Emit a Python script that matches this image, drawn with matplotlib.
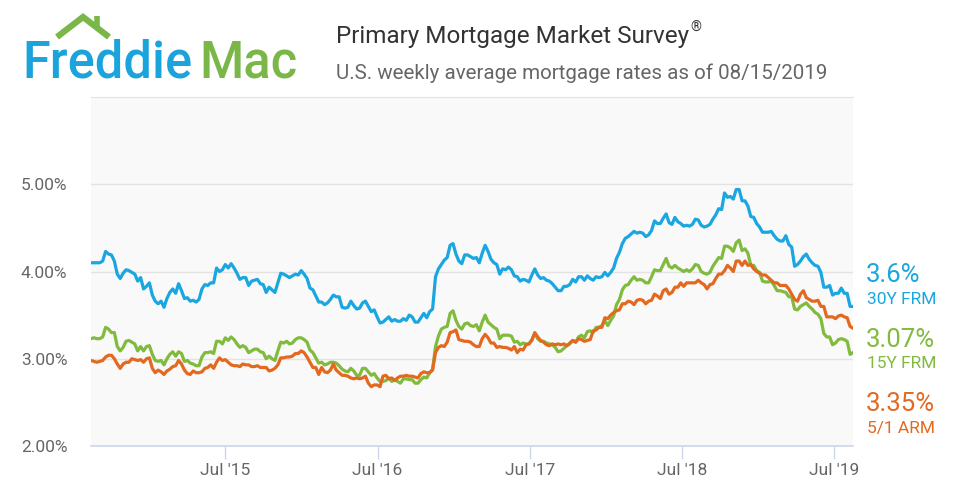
import matplotlib
matplotlib.use("Agg")
import matplotlib.pyplot as plt
import pandas as pd
from matplotlib.lines import Line2D

plt.rcParams['font.family'] = ['Roboto', 'DejaVu Sans']

# weekly PMMS rates, Thursdays from 2014-08-14 to 2019-08-15
frm30 = [
    4.10, 4.10, 4.10, 4.10, 4.12, 4.23, 4.20, 4.19, 4.12, 3.97, 3.92, 3.98, 4.02, 4.01, 3.99, 3.97, 3.89, 3.93, 3.80, 3.83,
    3.87, 3.73, 3.66, 3.63, 3.66, 3.59, 3.69, 3.76, 3.80, 3.75, 3.86, 3.78, 3.69, 3.70, 3.66, 3.67, 3.65, 3.68,
    3.80, 3.85, 3.84, 3.87, 3.87, 4.04, 4.00, 4.02, 4.08, 4.04, 4.09, 4.04, 3.98, 3.91, 3.93, 3.93, 3.84,
    3.89, 3.90, 3.91, 3.86, 3.85, 3.76, 3.82, 3.79, 3.76, 3.87, 3.98, 3.97, 3.95, 3.93, 3.95, 3.97, 3.96, 4.01,
    3.97, 3.92, 3.81, 3.79, 3.72, 3.65, 3.65, 3.62, 3.64, 3.68, 3.73, 3.71, 3.71, 3.59, 3.58, 3.59, 3.66,
    3.61, 3.57, 3.58, 3.64, 3.66, 3.60, 3.54, 3.56, 3.48, 3.41, 3.42, 3.45, 3.48, 3.43, 3.45, 3.43, 3.43,
    3.46, 3.44, 3.50, 3.48, 3.42, 3.42, 3.47, 3.52, 3.47, 3.54, 3.57, 3.94, 4.03, 4.08, 4.13, 4.16, 4.30, 4.32,
    4.20, 4.12, 4.09, 4.19, 4.19, 4.17, 4.15, 4.16, 4.10, 4.21, 4.30, 4.23, 4.14, 4.10, 4.08, 3.97, 4.03,
    4.02, 4.05, 4.02, 3.95, 3.94, 3.89, 3.91, 3.90, 3.88, 3.96, 4.03, 3.96, 3.92, 3.93, 3.90, 3.89, 3.86, 3.82,
    3.78, 3.78, 3.83, 3.83, 3.85, 3.91, 3.88, 3.94, 3.94, 3.90, 3.95, 3.92, 3.90, 3.94, 3.93, 3.94, 3.99,
    3.95, 3.99, 4.04, 4.15, 4.22, 4.32, 4.38, 4.40, 4.43, 4.46, 4.44, 4.45, 4.44, 4.40, 4.42, 4.47, 4.58,
    4.55, 4.55, 4.61, 4.66, 4.56, 4.54, 4.62, 4.57, 4.55, 4.52, 4.53, 4.52, 4.54, 4.60, 4.59, 4.53, 4.51, 4.52,
    4.54, 4.60, 4.65, 4.72, 4.71, 4.90, 4.85, 4.86, 4.83, 4.94, 4.94, 4.81, 4.81, 4.75, 4.63, 4.62, 4.55,
    4.51, 4.45, 4.45, 4.45, 4.46, 4.41, 4.37, 4.35, 4.35, 4.41, 4.31, 4.28, 4.06, 4.08, 4.12, 4.17, 4.20,
    4.14, 4.10, 4.07, 4.06, 3.99, 3.82, 3.82, 3.84, 3.73, 3.75, 3.75, 3.81, 3.75, 3.75, 3.60, 3.60,
]
frm15 = [
    3.23, 3.24, 3.23, 3.23, 3.25, 3.36, 3.34, 3.30, 3.30, 3.14, 3.09, 3.13, 3.20, 3.21, 3.19, 3.17, 3.09, 3.14, 3.09, 3.14,
    3.15, 3.05, 2.98, 2.97, 2.98, 2.93, 3.00, 3.05, 3.08, 3.03, 3.08, 3.06, 2.97, 2.98, 2.95, 2.94, 2.92, 2.92,
    3.02, 3.07, 3.07, 3.08, 3.06, 3.20, 3.20, 3.17, 3.24, 3.21, 3.25, 3.22, 3.17, 3.13, 3.15, 3.13, 3.07,
    3.09, 3.11, 3.11, 3.08, 3.07, 3.00, 3.03, 3.00, 2.98, 3.09, 3.19, 3.18, 3.20, 3.17, 3.18, 3.22, 3.24, 3.24,
    3.22, 3.19, 3.10, 3.07, 3.01, 2.95, 2.96, 2.93, 2.94, 2.96, 2.96, 2.95, 2.92, 2.88, 2.86, 2.85, 2.89,
    2.86, 2.81, 2.81, 2.89, 2.89, 2.85, 2.81, 2.83, 2.78, 2.74, 2.74, 2.75, 2.78, 2.74, 2.76, 2.74, 2.72,
    2.77, 2.77, 2.76, 2.76, 2.72, 2.72, 2.76, 2.79, 2.78, 2.84, 2.88, 3.14, 3.26, 3.34, 3.36, 3.37, 3.52, 3.55,
    3.44, 3.37, 3.34, 3.40, 3.41, 3.38, 3.37, 3.39, 3.32, 3.42, 3.50, 3.42, 3.39, 3.36, 3.34, 3.23, 3.27,
    3.27, 3.27, 3.26, 3.19, 3.20, 3.16, 3.18, 3.17, 3.17, 3.22, 3.29, 3.23, 3.20, 3.20, 3.18, 3.17, 3.16, 3.13,
    3.08, 3.09, 3.12, 3.15, 3.17, 3.21, 3.19, 3.25, 3.27, 3.24, 3.31, 3.32, 3.30, 3.36, 3.36, 3.38, 3.44,
    3.38, 3.44, 3.49, 3.62, 3.68, 3.79, 3.84, 3.85, 3.90, 3.94, 3.90, 3.91, 3.90, 3.87, 3.87, 3.94, 4.02,
    4.01, 4.01, 4.08, 4.15, 4.06, 4.04, 4.07, 4.04, 4.02, 4.00, 4.02, 4.00, 4.03, 4.08, 4.07, 4.00, 3.98, 3.97,
    3.99, 4.06, 4.11, 4.16, 4.15, 4.29, 4.29, 4.27, 4.23, 4.33, 4.36, 4.24, 4.26, 4.21, 4.07, 4.07, 4.01,
    3.99, 3.89, 3.88, 3.88, 3.89, 3.84, 3.78, 3.78, 3.77, 3.76, 3.71, 3.71, 3.57, 3.56, 3.60, 3.62, 3.64,
    3.60, 3.57, 3.53, 3.51, 3.46, 3.29, 3.25, 3.25, 3.16, 3.18, 3.22, 3.23, 3.22, 3.20, 3.05, 3.07,
]
arm51 = [
    2.98, 2.97, 2.96, 2.97, 2.98, 3.02, 3.04, 3.04, 3.00, 2.94, 2.89, 2.94, 2.96, 2.96, 3.00, 2.99, 2.98, 2.99, 2.96, 3.00,
    3.01, 2.89, 2.84, 2.87, 2.85, 2.82, 2.86, 2.88, 2.91, 2.92, 2.98, 2.94, 2.87, 2.83, 2.82, 2.86, 2.84, 2.84,
    2.85, 2.89, 2.90, 2.93, 2.89, 2.96, 3.01, 2.98, 2.99, 2.96, 2.93, 2.92, 2.92, 2.91, 2.94, 2.93, 2.93,
    2.91, 2.91, 2.92, 2.90, 2.90, 2.90, 2.86, 2.87, 2.89, 2.93, 3.01, 3.01, 3.02, 3.02, 3.03, 3.06, 3.06, 3.09,
    3.07, 3.02, 2.96, 2.90, 2.90, 2.82, 2.90, 2.85, 2.84, 2.87, 2.94, 2.87, 2.84, 2.81, 2.81, 2.80, 2.78,
    2.77, 2.78, 2.77, 2.78, 2.80, 2.72, 2.68, 2.70, 2.70, 2.68, 2.80, 2.81, 2.77, 2.78, 2.75, 2.78, 2.80,
    2.80, 2.81, 2.80, 2.80, 2.79, 2.78, 2.83, 2.85, 2.84, 2.84, 2.87, 3.07, 3.13, 3.15, 3.14, 3.19, 3.30, 3.31,
    3.33, 3.22, 3.21, 3.20, 3.20, 3.19, 3.16, 3.14, 3.14, 3.23, 3.28, 3.24, 3.18, 3.18, 3.13, 3.14, 3.13,
    3.13, 3.12, 3.10, 3.14, 3.07, 3.11, 3.10, 3.16, 3.17, 3.21, 3.30, 3.25, 3.21, 3.19, 3.16, 3.15, 3.17, 3.16,
    3.17, 3.16, 3.17, 3.15, 3.18, 3.21, 3.19, 3.23, 3.22, 3.20, 3.21, 3.22, 3.32, 3.33, 3.36, 3.36, 3.47,
    3.46, 3.50, 3.53, 3.55, 3.56, 3.63, 3.63, 3.66, 3.65, 3.62, 3.67, 3.68, 3.67, 3.63, 3.66, 3.67, 3.74,
    3.72, 3.69, 3.78, 3.80, 3.74, 3.76, 3.82, 3.82, 3.87, 3.83, 3.87, 3.87, 3.87, 3.87, 3.90, 3.87, 3.85, 3.80,
    3.85, 3.86, 3.92, 3.97, 3.97, 4.01, 4.07, 4.04, 4.00, 4.12, 4.12, 4.07, 4.12, 4.07, 4.08, 4.03, 4.00,
    3.98, 3.96, 3.96, 3.93, 3.90, 3.87, 3.87, 3.84, 3.84, 3.84, 3.80, 3.74, 3.68, 3.66, 3.74, 3.78, 3.70,
    3.68, 3.66, 3.66, 3.67, 3.60, 3.60, 3.48, 3.48, 3.48, 3.46, 3.49, 3.50, 3.48, 3.47, 3.37, 3.35,
]
dates = pd.date_range('2014-08-14', periods=len(frm30), freq='7D')

series = [
    (frm30, '#1aa6e0', '3.6%', '30Y FRM', 275),
    (frm15, '#80bb3d', '3.07%', '15Y FRM', 340),
    (arm51, '#e2691f', '3.35%', '5/1 ARM', 404),
]
tick_years = [2015, 2016, 2017, 2018, 2019]
y_ticks = [2, 3, 4, 5]

W, H = 960, 504
fig = plt.figure(figsize=(W / 100, H / 100), dpi=100)
fig.patch.set_facecolor('white')


def px(x, y):
    return x / W, 1 - y / H


ax = fig.add_axes([91 / W, (H - 446) / H, (853 - 91) / W, (446 - 97) / H])
ax.set_facecolor('#f9f9f9')

for vals, color, *_ in series:
    ax.plot(dates, vals, color=color, lw=2.3, solid_joinstyle='round', zorder=3)

ax.set_xlim(dates[0], dates[-1])
ax.set_ylim(2, 6)
ax.set_yticks(y_ticks)
ax.set_yticklabels([f'{v:.2f}%' for v in y_ticks])
ax.grid(axis='y', color='#e3e3e3', lw=1)
ax.set_axisbelow(True)

ticks = [pd.Timestamp(f'{y}-07-01') for y in tick_years]
ax.set_xticks(ticks)
ax.set_xticklabels([f"Jul '{str(y)[2:]}" for y in tick_years])

for s in ['left', 'right']:
    ax.spines[s].set_visible(False)
ax.spines['top'].set_color('#e3e3e3')
ax.spines['bottom'].set_color('#ccd6eb')
ax.spines['bottom'].set_linewidth(1.2)
ax.tick_params(axis='y', length=0, pad=17, labelsize=12.5, labelcolor='#666666')
ax.tick_params(axis='x', length=9, width=1, color='#ccd6eb', pad=3,
               labelsize=12.5, labelcolor='#666666')

# right-hand labels
for vals, color, big, small, ymid in series:
    fig.text(*px(866, ymid), big, color=color, fontsize=18.5, va='center', ha='left')
    fig.text(*px(867, ymid + 24), small, color=color, fontsize=12.5, va='center', ha='left')

# title block
t = fig.text(*px(336, 37), 'Primary Mortgage Market Survey', fontsize=17.5,
             color='#333333', va='center', ha='left')
fig.canvas.draw()
bb = t.get_window_extent()
fig.text(bb.x1 / W + 0.001, px(0, 28)[1], '®', fontsize=10, color='#333333',
         va='center', ha='left')
fig.text(*px(336, 73), 'U.S. weekly average mortgage rates as of 08/15/2019',
         fontsize=14.8, color='#666666', va='center', ha='left')

# logo, scaled so "FreddieMac" spans x=22..297
logo_size = 38
fr = fig.text(*px(22, 78), 'Freddie', fontsize=logo_size, color='#1ba3dc',
              fontweight='medium', va='baseline', ha='left')
mc = fig.text(*px(0, 78), 'Mac', fontsize=logo_size, color='#7ab648',
              fontweight='medium', va='baseline', ha='left')
fig.canvas.draw()
w_fr = fr.get_window_extent().width
w_mc = mc.get_window_extent().width
scale = (297 - 22 - 7) / (w_fr + w_mc)
fr.set_fontsize(logo_size * scale)
mc.set_fontsize(logo_size * scale)
fig.canvas.draw()
mc.set_x((fr.get_window_extent().x1 + 7) / W)

roof_x = [57, 83, 109]
roof_y = [37, 17, 37]
fig.add_artist(Line2D([px(x, 0)[0] for x in roof_x], [px(0, y)[1] for y in roof_y],
                      color='#7ab648', lw=4.5, solid_joinstyle='miter', solid_capstyle='butt'))
fig.add_artist(Line2D([px(97, 0)[0]] * 2, [px(0, 16)[1], px(0, 27)[1]],
                      color='#7ab648', lw=4, solid_capstyle='butt'))

fig.savefig('out.png', dpi=100)
